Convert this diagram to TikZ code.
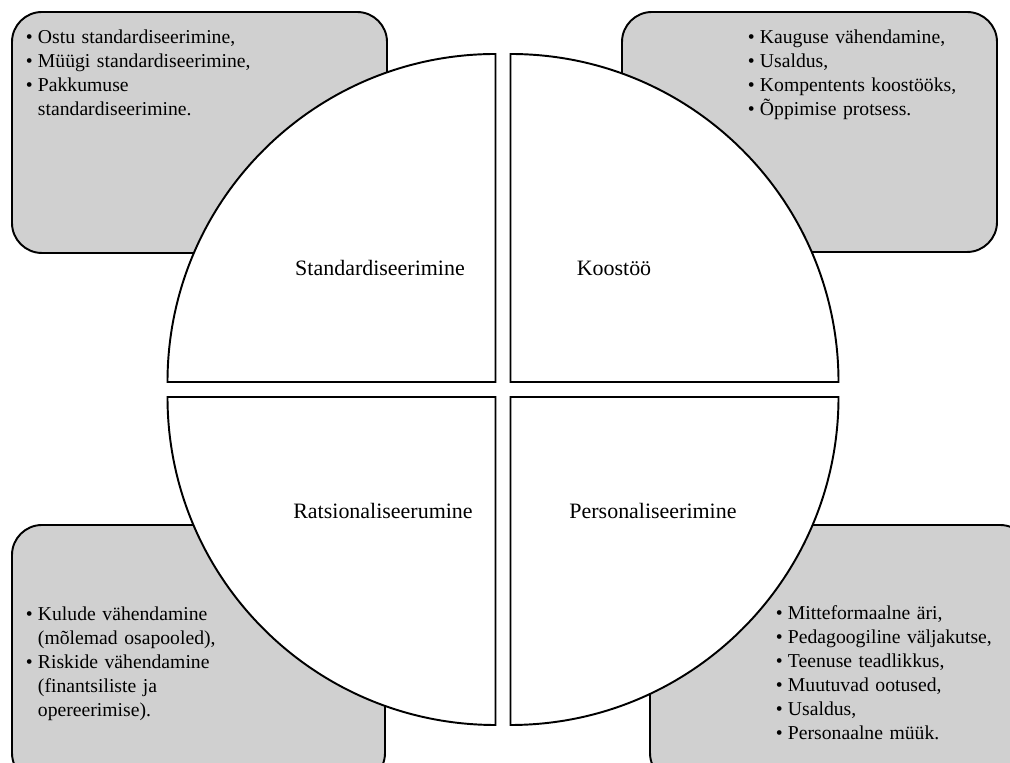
\documentclass[tikz,border=0pt]{standalone}
\usepackage{fontspec}
\setmainfont{Liberation Serif}
\definecolor{boxgray}{RGB}{208,208,208}
\newcommand{\bitem}[1]{\noindent\hangindent=0.24cm\hangafter=1\makebox[0.24cm][l]{\textbullet}#1\par}

\begin{document}
\begin{tikzpicture}[x=0.02cm,y=0.02cm,line width=1.1pt,
  box/.style={draw,fill=boxgray,rounded corners=0.6cm},
  part/.style={draw,fill=white},
  label/.style={font=\fontsize{12.5}{15}\selectfont},
  list/.style={anchor=north west,inner sep=0pt,text width=6cm,font=\fontsize{11.2}{13.6}\selectfont}]
\clip (0,0) rectangle (1010,763);
% boxes behind the circle
\draw[box] (12,510) rectangle (387,751)
           (622,511) rectangle (997,751)
           (12,-20) rectangle (385,238)
           (650,-20) rectangle (1030,238);
% the four quarters
\draw[part] (495.5,381) -- ++(-328,0) arc[start angle=180,end angle=90,radius=328] -- cycle;
\draw[part] (510.5,381) -- ++(0,328) arc[start angle=90,end angle=0,radius=328] -- cycle;
\draw[part] (495.5,366) -- ++(0,-328) arc[start angle=270,end angle=180,radius=328] -- cycle;
\draw[part] (510.5,366) -- ++(328,0) arc[start angle=0,end angle=-90,radius=328] -- cycle;
% names of the quarters
\node[label] (std) at (380,495) {Standardiseerimine};
\node[label] (koo) at (614,495) {Koostöö};
\node[label] (rat) at (383,252) {Ratsionaliseerumine};
\node[label] (per) at (653,252) {Personaliseerimine};
% lists in the boxes
\node[list] (stdlist) at (25,734) {\bitem{Ostu standardiseerimine,}\bitem{Müügi standardiseerimine,}\bitem{Pakkumuse\newline standardiseerimine.}};
\node[list] (koolist) at (747,734) {\bitem{Kauguse vähendamine,}\bitem{Usaldus,}\bitem{Kompentents koostööks,}\bitem{Õppimise protsess.}};
\node[list] (ratlist) at (25,157) {\bitem{Kulude vähendamine\newline (mõlemad osapooled),}\bitem{Riskide vähendamine\newline (finantsiliste ja\newline opereerimise).}};
\node[list] (perlist) at (775,158) {\bitem{Mitteformaalne äri,}\bitem{Pedagoogiline väljakutse,}\bitem{Teenuse teadlikkus,}\bitem{Muutuvad ootused,}\bitem{Usaldus,}\bitem{Personaalne müük.}};
\end{tikzpicture}
\end{document}
